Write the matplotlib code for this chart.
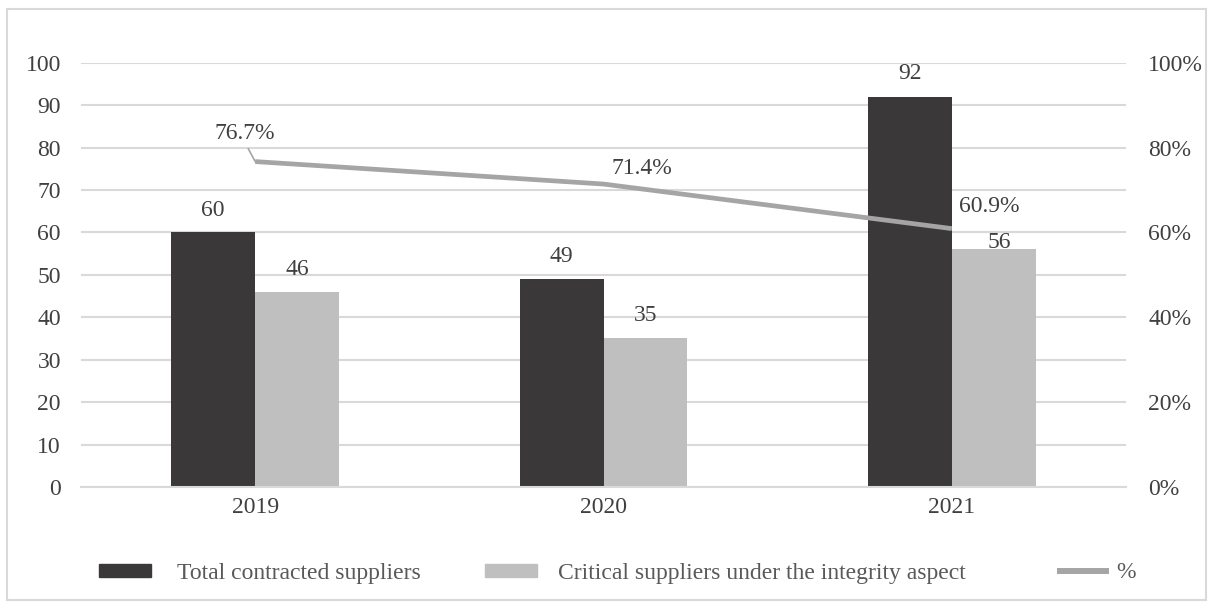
import matplotlib.pyplot as plt
import numpy as np
from matplotlib.lines import Line2D
from matplotlib.patches import Patch, Rectangle

plt.rcParams['font.family'] = ['Liberation Serif', 'DejaVu Serif']

years = ['2019', '2020', '2021']
total_suppliers = [60, 49, 92]
critical_suppliers = [46, 35, 56]
pct_critical = [0.767, 0.714, 0.609]
pct_labels = ['76.7%', '71.4%', '60.9%']

dark = '#3a3838'
light = '#bfbfbf'
line_col = '#a5a5a5'
text_col = '#404040'
legend_col = '#595959'
fs = 17

fig = plt.figure(figsize=(12.13, 6.06), dpi=100)
fig.patches.append(Rectangle((0.006, 0.01), 0.988, 0.975, transform=fig.transFigure,
                             fill=False, edgecolor='#d9d9d9', linewidth=1.5))

ax = fig.add_axes([0.0668, 0.1964, 0.8615, 0.7001])
x = np.arange(len(years))
w = 0.241

b1 = ax.bar(x - w / 2, total_suppliers, w, color=dark, zorder=2)
b2 = ax.bar(x + w / 2, critical_suppliers, w, color=light, zorder=2)

# label offsets in pixels (dx, dy to label centre)
total_off = [(0, 22), (0, 23), (0, 23)]
crit_off = [(0, 22), (0, 23), (5, 7)]
for bars, vals, offs in [(b1, total_suppliers, total_off), (b2, critical_suppliers, crit_off)]:
    for rect, v, off in zip(bars, vals, offs):
        ax.annotate(str(v), (rect.get_x() + rect.get_width() / 2, v), xytext=off,
                    textcoords='offset pixels', ha='center', va='center',
                    fontsize=fs, color=text_col)

ax.set_xlim(-0.5, 2.5)
ax.set_ylim(0, 100)
ax.set_yticks(range(0, 101, 10))
ax.set_xticks(x)
ax.set_xticklabels(years)
ax.yaxis.grid(True, color='#d9d9d9', linewidth=1.5, zorder=0)
ax.set_axisbelow(True)
ax.tick_params(axis='y', length=0, pad=14.5, labelsize=fs, labelcolor=text_col)
ax.tick_params(axis='x', length=0, pad=7, labelsize=fs, labelcolor=text_col)
for s in ax.spines.values():
    s.set_visible(False)
ax.spines['bottom'].set_visible(True)
ax.spines['bottom'].set_color('#d9d9d9')
ax.spines['bottom'].set_linewidth(1.5)

ax2 = ax.twinx()
ax2.plot(x, pct_critical, color=line_col, linewidth=3.4, solid_capstyle='butt')
ax2.set_ylim(0, 1)
ax2.set_yticks(np.arange(0, 1.01, 0.2))
ax2.set_yticklabels([f'{int(round(t * 100))}%' for t in np.arange(0, 1.01, 0.2)])
ax2.tick_params(axis='y', length=0, pad=16, labelsize=fs, labelcolor=text_col)
for s in ax2.spines.values():
    s.set_visible(False)

pct_off = [(-10, 28), (38, 16), (37, 22)]
for xi, p, lab, off in zip(x, pct_critical, pct_labels, pct_off):
    ax2.annotate(lab, (xi, p), xytext=off, textcoords='offset pixels',
                 ha='center', va='center', fontsize=fs, color=text_col)
# leader line for the first label
ax2.annotate('', (x[0], pct_critical[0]), xytext=(-7, 13), textcoords='offset pixels',
             arrowprops=dict(arrowstyle='-', color=line_col, linewidth=1.2,
                             shrinkA=0, shrinkB=0))

# legend entries placed one by one (uneven spacing as in the original)
legend_y = 1 - 573 / 606
entries = [
    (Patch(color=dark), 'Total contracted suppliers', 99, 1.1),
    (Patch(color=light), 'Critical suppliers under the integrity aspect', 485, 0.9),
    (Line2D([], [], color=line_col, linewidth=4.3, solid_capstyle='butt'), '%', 1057, 0.3),
]
for handle, label, px, pad in entries:
    fig.legend(handles=[handle], labels=[label], loc='center left',
               bbox_to_anchor=(px / 1213, legend_y), frameon=False, fontsize=fs,
               labelcolor=legend_col, handlelength=2.2, handleheight=0.47,
               handletextpad=pad, borderpad=0, borderaxespad=0)

fig.savefig('out.png', dpi=100)
